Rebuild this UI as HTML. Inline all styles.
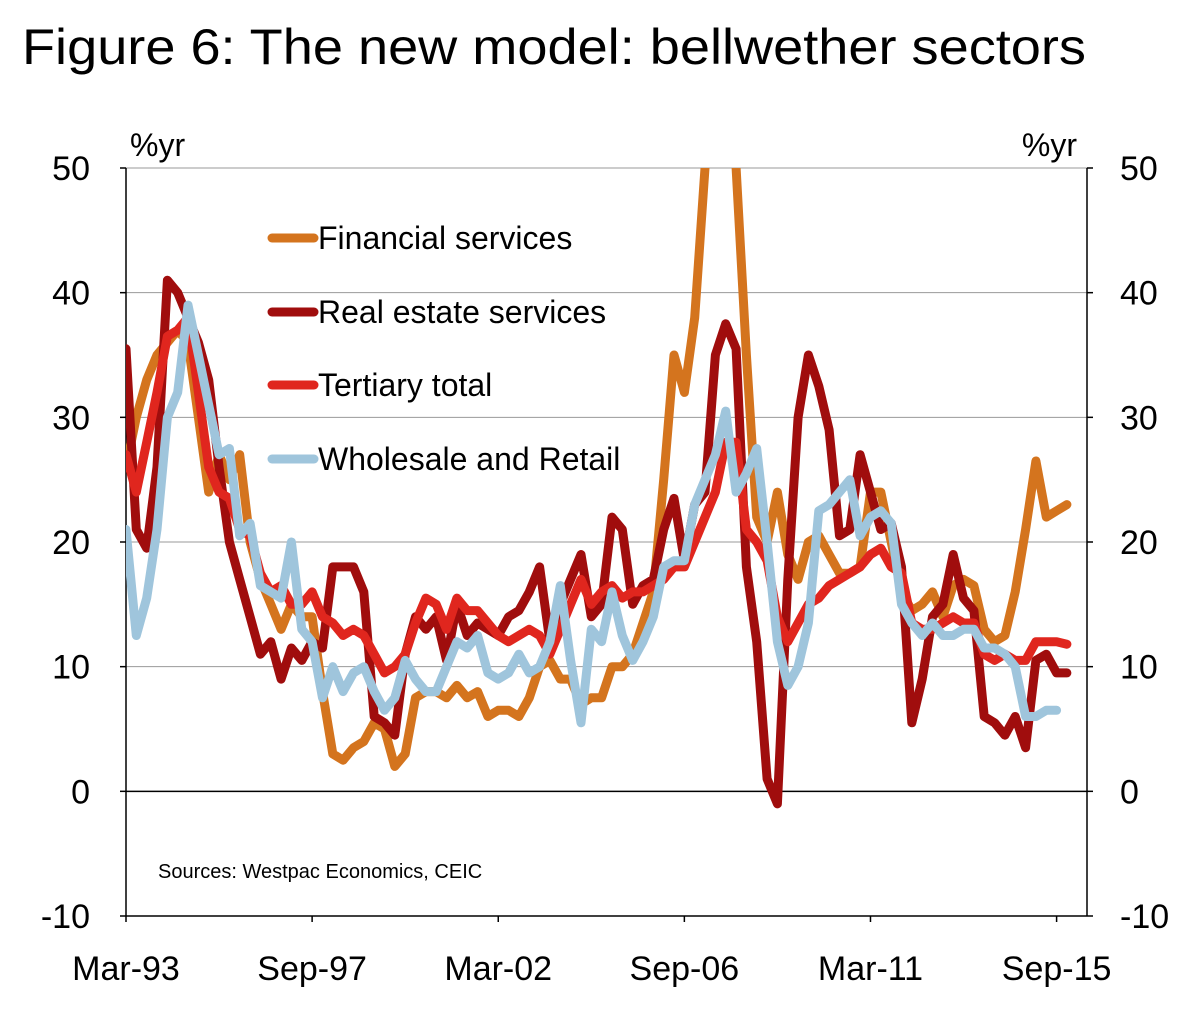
<!DOCTYPE html>
<html><head><meta charset="utf-8"><style>
html,body{margin:0;padding:0;background:#fff;}
svg{display:block;font-family:"Liberation Sans",sans-serif;}
</style></head><body>
<svg id="chart" width="1198" height="1010" viewBox="0 0 1198 1010" xmlns="http://www.w3.org/2000/svg">
<text x="22" y="64" font-size="50" textLength="1064" lengthAdjust="spacingAndGlyphs" fill="#000">Figure 6: The new model: bellwether sectors</text>
<defs><clipPath id="plotclip"><rect x="126" y="168" width="961" height="748"/></clipPath></defs>
<g id="grid"></g>
<g id="axes"></g>
<g id="series" clip-path="url(#plotclip)"></g>
<g id="legend"></g>
<text x="130" y="156" font-size="32">%yr</text>
<text x="1077" y="156" font-size="32" text-anchor="end">%yr</text>
<text x="158" y="878" font-size="20">Sources: Westpac Economics, CEIC</text>
</svg>
<script>
const yTicks=[50,40,30,20,10,0,-10];
const xTickLabels=["Mar-93","Sep-97","Mar-02","Sep-06","Mar-11","Sep-15"];
const xTickIdx=[0,18,36,54,72,90];
const financial=[26,30,33,35,36,37,36,30,24,27,25,27,20,17,15,13,15,14,14,8,3,2.5,3.5,4,5.5,5,2,3,7.5,8,8,7.5,8.5,7.5,8,6,6.5,6.5,6,7.5,10,10.5,9,9,7,7.5,7.5,10,10,11,13.5,16,25,35,32,38,50,60,65,50,35,22,20,24,19,17,20,20.5,19,17.5,17.5,18,24,24,20,16,14.5,15,16,14,16.5,17,16.5,13,12,12.5,16,21,26.5,22,22.5,23];
const realEstate=[35.5,21,19.5,26,41,40,38,36,33,26,20,17,14,11,12,9,11.5,10.5,12,11.5,18,18,18,16,6,5.5,4.5,11,14,13,14,10.5,15,12.5,13.5,13,12.5,14,14.5,16,18,12,15,17,19,14,15,22,21,15,16.5,17,21,23.5,18.5,23,24,35,37.5,35.5,18,12,1,-1,17,30,35,32.5,29,20.5,21,27,24,21,21.5,18,5.5,9,14,15,19,15.5,14.5,6,5.5,4.5,6,3.5,10.5,11,9.5,9.5];
const tertiary=[27,24,28,32,36.5,37,38,32,26,24,23.5,21,20.5,17.5,16,16.5,15,15,16,14,13.5,12.5,13,12.5,11,9.5,10,11,13.5,15.5,15,13,15.5,14.5,14.5,13.5,12.5,12,12.5,13,12.5,11,13,15,17,15,16,16.5,15.5,16,16,16.5,17,18,18,20,22,24,28,28,21,20,18.5,14,12,13.5,15,15.5,16.5,17,17.5,18,19,19.5,18,17.5,13.5,13,13,13.5,14,13.5,13.5,11,10.5,11,10.5,10.5,12,12,12,11.8];
const wholesale=[21,12.5,15.5,21,30,32,39,35,31,27,27.5,20.5,21.5,16.5,16,15.5,20,13,12,7.5,10,8,9.5,10,8,6.5,7.5,10.5,9,8,8,10,12,11.5,12.5,9.5,9,9.5,11,9.5,10,12,16.5,10.5,5.5,13,12,16,12.5,10.5,12,14,18,18.5,18.5,23,25,27,30.5,24,25.5,27.5,20,12,8.5,10,13.5,22.5,23,24,25,20.5,22,22.5,21.5,15,13.5,12.5,13.5,12.5,12.5,13,13,11.5,11.5,11,10,6,6,6.5,6.5];
const seriesNames=["Financial services","Real estate services","Tertiary total","Wholesale and Retail"];
const NS="http://www.w3.org/2000/svg";
const X0=126,X1=1087,DX=10.34,Y50=168,Y10=916;
function xs(i){return X0+DX*i;}
function ys(v){return Y50+(50-v)*(Y10-Y50)/60;}
function mk(t,a,p){const e=document.createElementNS(NS,t);for(const k in a)e.setAttribute(k,a[k]);p.appendChild(e);return e;}
const grid=document.getElementById('grid'),axes=document.getElementById('axes'),ser=document.getElementById('series'),leg=document.getElementById('legend');
yTicks.forEach(v=>{
 if(v!==0&&v!==-10){const l=mk('line',{x1:X0,x2:X1,y1:ys(v),y2:ys(v),stroke:'#999','stroke-width':1},grid);
 
 }
 const t1=mk('text',{x:90,y:ys(v)+12,'font-size':34,'text-anchor':'end'},axes);t1.textContent=v;
 
 
 const t2=mk('text',{x:1120,y:ys(v)+12,'font-size':34},axes);t2.textContent=v;
 
 
 mk('line',{x1:X0-6,x2:X0,y1:ys(v),y2:ys(v),stroke:'#000','stroke-width':1.5},axes);
 mk('line',{x1:X1,x2:X1+6,y1:ys(v),y2:ys(v),stroke:'#000','stroke-width':1.5},axes);
});
mk('line',{x1:X0,x2:X0,y1:Y50,y2:Y10,stroke:'#000','stroke-width':1.5},axes);
mk('line',{x1:X1,x2:X1,y1:Y50,y2:Y10,stroke:'#000','stroke-width':1.5},axes);
mk('line',{x1:X0,x2:X1,y1:Y10,y2:Y10,stroke:'#000','stroke-width':1.5},axes);
const zl=mk('line',{x1:X0,x2:X1,y1:ys(0),y2:ys(0),stroke:'#000','stroke-width':1.5},axes);


xTickIdx.forEach((q,k)=>{
 mk('line',{x1:xs(q),x2:xs(q),y1:Y10,y2:Y10+6,stroke:'#000','stroke-width':1.5},axes);
 const t=mk('text',{x:xs(q),y:980,'font-size':34,'text-anchor':'middle'},axes);t.textContent=xTickLabels[k];
 
 
});
const data=[financial,realEstate,tertiary,wholesale];
const colors=["#d4741e","#a00d0d","#e0261e","#9fc5dc"];
const ids=["financial-services-line","real-estate-services-line","tertiary-total-line","wholesale-retail-line"];
[0,1,2,3].forEach(s=>{
 const d=data[s].map((v,i)=>(i?'L':'M')+xs(i).toFixed(1)+','+ys(v).toFixed(1)).join('');
 const p=mk('path',{d:d,fill:'none',stroke:colors[s],'stroke-width':9,'stroke-linejoin':'round','stroke-linecap':'round'},ser);
 
 
});
const ly=[238,312,385,459];
[0,1,2,3].forEach(s=>{
 const g=mk('g',{},leg);
 
 
 mk('line',{x1:272,x2:314,y1:ly[s],y2:ly[s],stroke:colors[s],'stroke-width':9,'stroke-linecap':'round'},g);
 const t=mk('text',{x:318,y:ly[s]+11,'font-size':32},g);t.textContent=seriesNames[s];
});
</script>
</body></html>
